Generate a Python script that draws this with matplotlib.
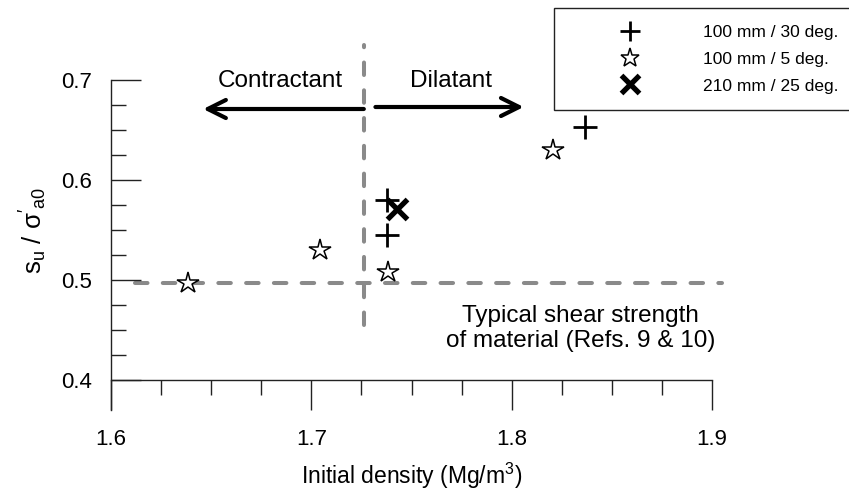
import matplotlib
matplotlib.use("Agg")
import matplotlib.pyplot as plt
from matplotlib.ticker import MultipleLocator

plt.rcParams['font.family'] = ['Liberation Sans', 'DejaVu Sans']
plt.rcParams['mathtext.fontset'] = 'custom'
plt.rcParams['mathtext.rm'] = 'Liberation Sans'
plt.rcParams['mathtext.it'] = 'Liberation Sans'
plt.rcParams['mathtext.sf'] = 'Liberation Sans'
plt.rcParams['lines.scale_dashes'] = False

# ---- data ----
plus_x = [1.738, 1.738, 1.8365]
plus_y = [0.580, 0.545, 0.653]
star_x = [1.6385, 1.7045, 1.7385, 1.8205]
star_y = [0.497, 0.530, 0.508, 0.630]
cross_x = [1.743]
cross_y = [0.571]
labels = ["100 mm / 30 deg.", "100 mm / 5 deg.", "210 mm / 25 deg."]

typical_strength = 0.497
typical_x_range = [1.612, 1.905]
boundary_density = 1.7262
boundary_y_range = [0.455, 0.735]

xticks = [1.6, 1.7, 1.8, 1.9]
yticks = [0.4, 0.5, 0.6, 0.7]

W, H = 849, 493
fig = plt.figure(figsize=(W / 100, H / 100), dpi=100)
ax = fig.add_axes([111 / W, 1 - 380 / H, 601 / W, 300 / H])
ax.set_xlim(1.6, 1.9)
ax.set_ylim(0.4, 0.7)

spine_c = '#222222'
for s in ['top', 'right']:
    ax.spines[s].set_visible(False)
for s in ['left', 'bottom']:
    ax.spines[s].set_color(spine_c)
    ax.spines[s].set_linewidth(1.0)
ax.spines['left'].set_bounds(0.37, 0.7)

ax.set_xticks(xticks)
ax.set_xticklabels([f"{v:.1f}" for v in xticks])
ax.set_yticks(yticks)
ax.set_yticklabels([f"{v:.1f}" for v in yticks])
ax.xaxis.set_minor_locator(MultipleLocator(0.025))
ax.yaxis.set_minor_locator(MultipleLocator(0.025))
ax.tick_params(axis='x', which='major', direction='out', length=21.6, width=1.0, color=spine_c, pad=13.5, labelsize=16)
ax.tick_params(axis='x', which='minor', direction='out', length=10.8, width=1.0, color=spine_c)
ax.tick_params(axis='y', which='major', direction='in', length=21.6, width=1.0, color=spine_c, pad=13.5, labelsize=16)
ax.tick_params(axis='y', which='minor', direction='in', length=10.8, width=1.0, color=spine_c)

ax.set_xlabel(r"Initial density (Mg/m$^\mathregular{3}$)", fontsize=16.5)
ax.xaxis.set_label_coords(0.5, -0.27)
ax.set_ylabel(r"s$_\mathregular{u}$ / $\mathregular{\sigma'_{a0}}$", fontsize=18.5)
ax.yaxis.set_label_coords(-0.103, 0.5)

# reference lines
gray = '#8a8a8a'
ax.plot(typical_x_range, [typical_strength, typical_strength], color=gray, lw=2.9,
        dashes=(9, 11), dash_capstyle='round', clip_on=False, zorder=1)
ax.plot([boundary_density, boundary_density], boundary_y_range, color=gray, lw=2.9,
        dashes=(9, 11), dash_capstyle='round', clip_on=False, zorder=1)

# arrows
arrow_kw = dict(arrowstyle='->,head_length=1.3,head_width=0.65', lw=3, color='black',
                shrinkA=0, shrinkB=0)
ax.annotate('', xy=(1.646, 0.671), xytext=(1.7262, 0.671), arrowprops=arrow_kw,
            annotation_clip=False)
ax.annotate('', xy=(1.806, 0.673), xytext=(1.732, 0.673), arrowprops=arrow_kw,
            annotation_clip=False)

ax.text(1.6845, 0.693, "Contractant", ha='center', va='baseline', fontsize=17.5)
ax.text(1.7695, 0.693, "Dilatant", ha='center', va='baseline', fontsize=17.5)
ax.text(1.8345, 0.458, "Typical shear strength", ha='center', va='baseline', fontsize=17.5)
ax.text(1.8345, 0.433, "of material (Refs. 9 & 10)", ha='center', va='baseline', fontsize=17.5)

# data
h1, = ax.plot(plus_x, plus_y, ls='none', marker='+', ms=17, mew=2.0, color='black',
              label=labels[0], clip_on=False, zorder=3)
h2, = ax.plot(star_x, star_y, ls='none', marker='*', ms=16, mew=1.1, mfc='white',
              mec='black', label=labels[1], clip_on=False, zorder=3)
h3, = ax.plot(cross_x, cross_y, ls='none', marker='x', ms=15, mew=3.8, color='black',
              label=labels[2], clip_on=False, zorder=4)

leg = ax.legend(handles=[h1, h2, h3], loc='upper left',
                bbox_to_anchor=(554 / W, 1 - 8 / H), bbox_transform=fig.transFigure,
                borderaxespad=0, fancybox=False, framealpha=1, edgecolor=spine_c,
                fontsize=12.5, borderpad=0.95, handlelength=6.8, handletextpad=0.86,
                labelspacing=0.68, markerscale=0.88)
leg.get_frame().set_linewidth(1.0)

fig.savefig("out.png", dpi=100)
